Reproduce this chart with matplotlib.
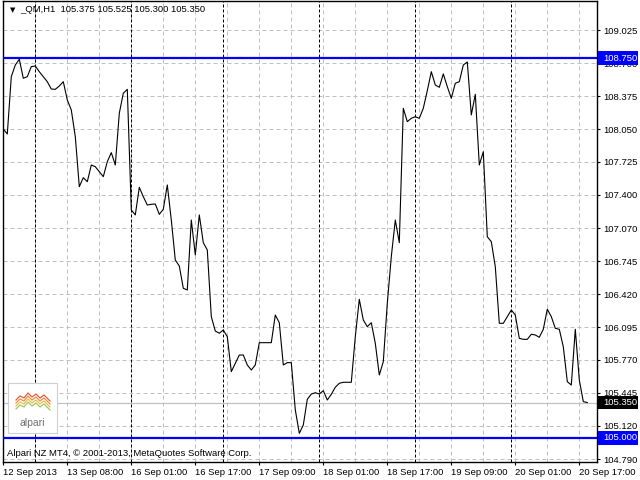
import matplotlib
matplotlib.use("Agg")
import matplotlib.pyplot as plt
from matplotlib.patches import Rectangle
from matplotlib.transforms import blended_transform_factory

plt.rcParams['font.family'] = ['Liberation Sans', 'DejaVu Sans']

# ---- data (hourly closes) ----
closes = [
    108.050, 108.001, 108.567, 108.682, 108.739, 108.551, 108.567, 108.666, 108.672, 108.616,
    108.567, 108.517, 108.445, 108.442, 108.475, 108.517, 108.337, 108.238, 107.975, 107.481,
    107.570, 107.530, 107.695, 107.678, 107.629, 107.580, 107.728, 107.817, 107.695, 108.206,
    108.403, 108.442, 107.251, 107.202, 107.475, 107.382, 107.300, 107.307, 107.310, 107.208,
    107.258, 107.498, 107.152, 106.757, 106.698, 106.478, 106.461, 107.152, 106.807, 107.202,
    106.928, 106.856, 106.198, 106.056, 106.034, 106.066, 106.000, 105.655, 105.738, 105.819,
    105.819, 105.721, 105.671, 105.721, 105.941, 105.941, 105.941, 105.941, 106.214, 106.138,
    105.721, 105.744, 105.744, 105.277, 105.046, 105.128, 105.382, 105.434, 105.447, 105.434,
    105.467, 105.375, 105.431, 105.501, 105.540, 105.550, 105.550, 105.550, 106.000, 106.369,
    106.165, 106.099, 106.138, 105.935, 105.622, 105.753, 106.330, 106.790, 107.152, 106.928,
    108.255, 108.123, 108.156, 108.172, 108.156, 108.255, 108.429, 108.616, 108.485, 108.462,
    108.594, 108.468, 108.354, 108.502, 108.517, 108.682, 108.712, 108.189, 108.393, 107.695,
    107.826, 106.987, 106.938, 106.691, 106.132, 106.132, 106.198, 106.264, 106.214, 105.984,
    105.974, 105.974, 106.024, 106.017, 105.994, 106.073, 106.271, 106.198, 106.083, 106.073,
    105.901, 105.556, 105.523, 106.073, 105.573, 105.359, 105.350,
]
x_tick_bars = [0, 16, 32, 48, 64, 80, 96, 112, 128, 144]
x_tick_labels = ["12 Sep 2013", "13 Sep 08:00", "16 Sep 01:00", "16 Sep 17:00", "17 Sep 09:00",
                 "18 Sep 01:00", "18 Sep 17:00", "19 Sep 09:00", "20 Sep 01:00", "20 Sep 17:00"]
y_ticks = [109.025, 108.700, 108.375, 108.050, 107.725, 107.400, 107.070, 106.745,
           106.420, 106.095, 105.770, 105.445, 105.120, 104.790]
y_tick_labels = ["109.025", "108.700", "108.375", "108.050", "107.725", "107.400", "107.070",
                 "106.745", "106.420", "106.095", "105.770", "105.445", "105.120", "104.790"]
day_separator_bars = [8, 32, 55, 79, 103, 127]
grid_bars = list(range(0, 148, 8))
hlines_blue = [108.750, 105.000]
bid_price = 105.350
title = "_QM,H1  105.375 105.525 105.300 105.350"

# ---- figure ----
fig = plt.figure(figsize=(6.4, 4.8), dpi=100)
fig.patch.set_facecolor("white")
ax = fig.add_axes([3 / 640, 1 - 462 / 480, 594 / 640, 461 / 480])
ax.set_facecolor("white")
ax.set_xlim(-0.075, 148.425)
ax.set_ylim(104.763, 109.314)

fs = 6.8
# grid
for b in grid_bars:
    ax.axvline(b, color="#c0c0c0", lw=0.72, ls=(0, (4, 3)), zorder=1)
for t in y_ticks:
    ax.axhline(t, color="#c0c0c0", lw=0.72, ls=(0, (4, 3)), zorder=1)
for b in day_separator_bars:
    ax.axvline(b, color="black", lw=0.72, ls=(0, (3, 2)), zorder=2)

# price lines
ax.axhline(bid_price, color="#c0c0c0", lw=0.9, zorder=2)
for p in hlines_blue:
    ax.axhline(p, color="#0000ff", lw=1.6, zorder=3)

ax.plot(range(len(closes)), closes, color="black", lw=0.8, zorder=4)

# axes style
for s in ax.spines.values():
    s.set_color("black")
    s.set_linewidth(1.0)
ax.yaxis.tick_right()
ax.set_yticks(y_ticks)
ax.set_yticklabels(y_tick_labels)
ax.set_xticks(x_tick_bars)
ax.set_xticklabels(x_tick_labels, ha="left")
ax.tick_params(axis="y", direction="out", length=2.5, width=0.8, pad=2, labelsize=fs)
ax.tick_params(axis="x", direction="out", length=2.5, width=0.8, pad=2, labelsize=fs)

# right price tags
tr = blended_transform_factory(fig.transFigure, ax.transData)
half = 0.066
for p, fc in [(108.750, "#0000ff"), (105.000, "#0000ff"), (bid_price, "black")]:
    fig.patches.append(Rectangle((598 / 640, p - half), 40 / 640, 2 * half, transform=tr,
                                 facecolor=fc, edgecolor="none", zorder=5))
    fig.text(603 / 640, p, f"{p:.3f}", transform=tr, color="white", fontsize=fs,
             va="center", ha="left", zorder=6)

# title
ax.text(7 / 594, 1 - 9 / 461, "\u25bc", transform=ax.transAxes, fontsize=5,
        va="center", ha="left", family=["DejaVu Sans"])
ax.text(17 / 594, 1 - 9 / 461, title, transform=ax.transAxes, fontsize=fs,
        va="center", ha="left")

# copyright
ax.text(4 / 594, (462 - 453) / 461, "Alpari NZ MT4, \u00a9 2001-2013, MetaQuotes Software Corp.",
        transform=ax.transAxes, fontsize=fs, va="center", ha="left", zorder=6)

# alpari logo
lx0, lx1, ly0, ly1 = 8, 57, 383, 433
def fx(px):
    return (px - 3) / 594
def fy(py):
    return (462 - py) / 461
ax.add_patch(Rectangle((fx(lx0), fy(ly1)), fx(lx1) - fx(lx0), fy(ly0) - fy(ly1),
                       transform=ax.transAxes, facecolor="white", edgecolor="#d0d0d0",
                       lw=0.8, zorder=6))
zig_x = [16, 20, 24, 28, 32, 36, 40, 44, 48, 50]
zig_y = [400, 396, 398, 393, 397, 394, 398, 395, 399, 401]
zig_cols = ["#e06040", "#f09040", "#e8c050", "#a0c860"]
for k, c in enumerate(zig_cols):
    ax.plot([fx(v) for v in zig_x], [fy(v + 3 * k) for v in zig_y], color=c, lw=0.9,
            transform=ax.transAxes, zorder=7)
ax.text(fx(32.5), fy(423), "alpari", transform=ax.transAxes, fontsize=7.5,
        color="#707070", ha="center", va="center", zorder=7)

fig.savefig("out.png", dpi=100)
